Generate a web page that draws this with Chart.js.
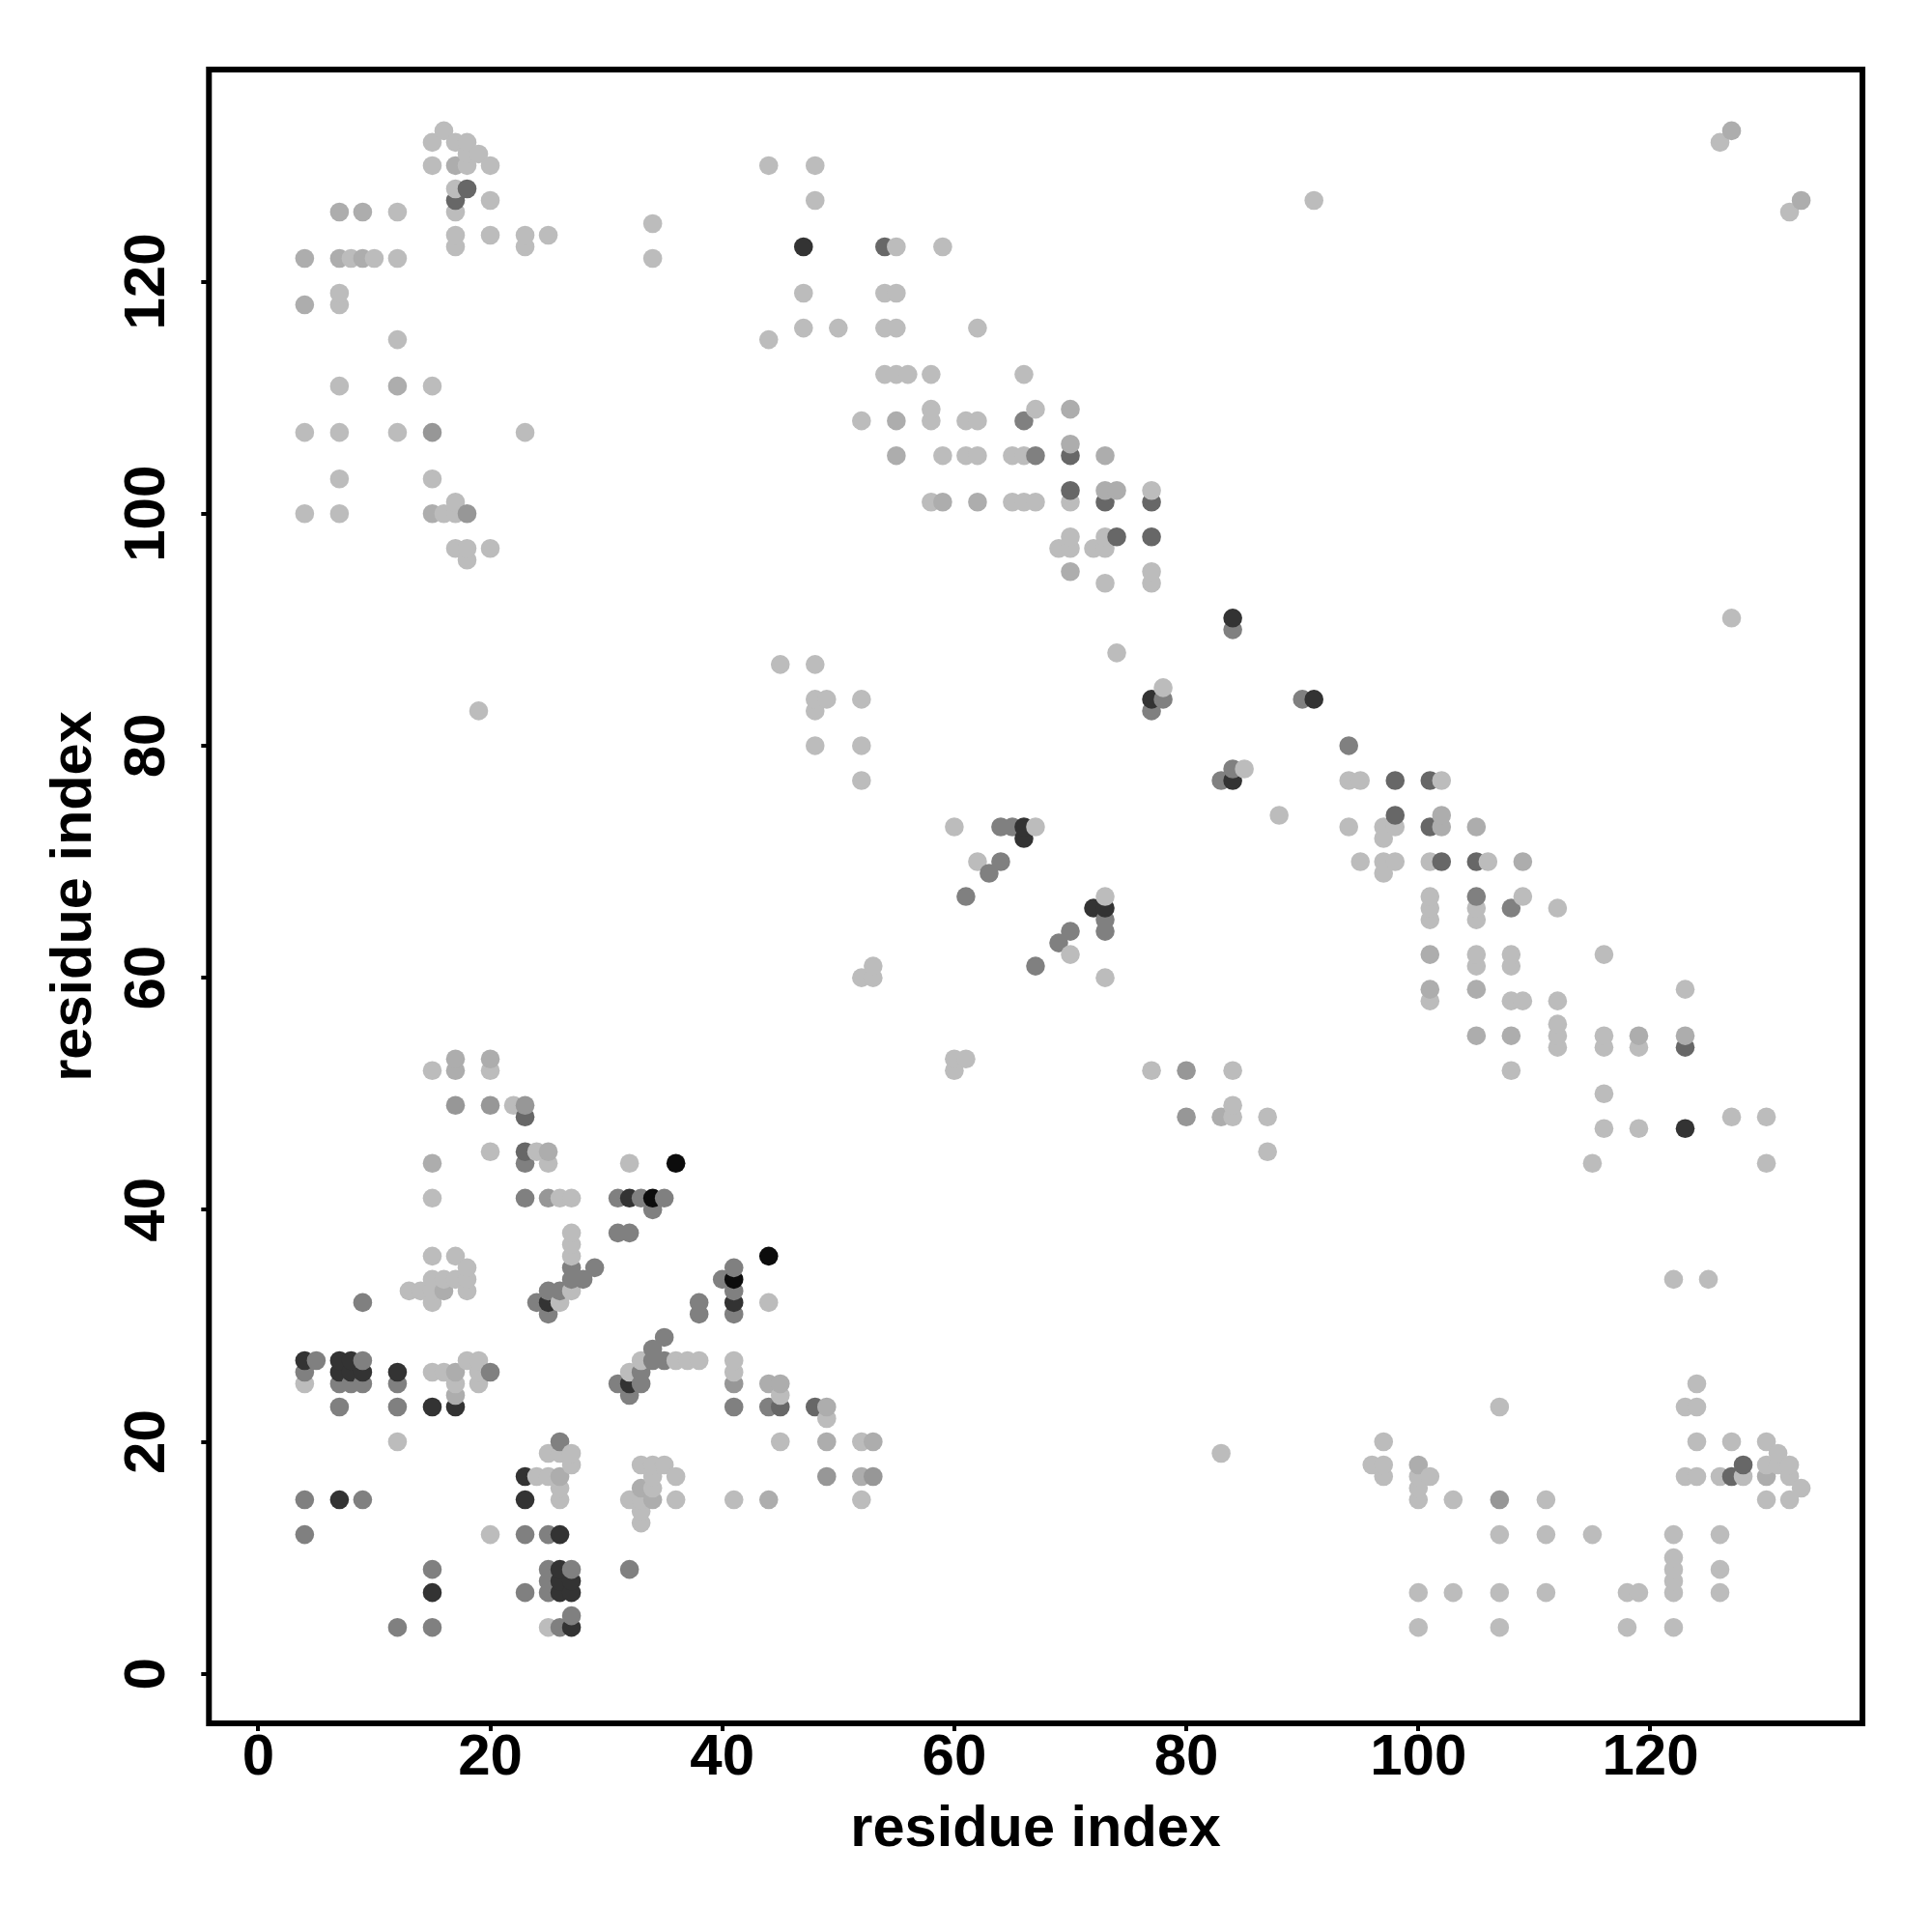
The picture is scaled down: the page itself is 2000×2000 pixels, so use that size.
<!DOCTYPE html>
<html>
<head>
<meta charset="utf-8">
<style>
    html, body { margin: 0; padding: 0; background: #fff; }
    canvas { display: block; }
</style>
<script src="https://cdn.jsdelivr.net/npm/chart.js@4/dist/chart.umd.min.js"></script>
</head>
<body>
<canvas id="contactMap" width="2000" height="2000"></canvas>
<script>
const tickValues = [0, 20, 40, 60, 80, 100, 120];
const axisTitle = 'residue index';

// contacts as [x, y], grouped by how dark they are in the picture
const faintContacts = [
    [16,133],[15,132],[17,132],[18,132],[18,131],[19,131],[15,130],[18,130],[20,130],[17,128],[20,127],
    [12,126],[17,126],[17,124],[20,124],[23,124],[25,124],[17,123],[23,123],[8,122],[10,122],[12,122],
    [7,119],[7,118],[12,115],[7,111],[15,111],[4,107],[7,107],[12,107],[23,107],[7,103],[15,103],
    [4,100],[7,100],[16,100],[17,101],[17,100],[17,97],[18,97],[20,97],[18,96],[19,83],
    [44,130],[48,130],[48,127],[91,127],[34,125],[34,122],[55,123],[59,123],[47,119],[54,119],[55,119],
    [47,116],[50,116],[54,116],[55,116],[62,116],[44,115],[54,112],[55,112],[56,112],[58,112],[66,112],
    [58,109],[67,109],[52,108],[58,108],[61,108],[62,108],[59,105],[61,105],[62,105],[65,105],[66,105],
    [58,101],[65,101],[66,101],[67,101],[70,101],[77,102],[70,98],[73,98],[69,97],[70,97],[72,97],[73,97],
    [77,95],[73,94],[77,94],[74,88],[45,87],[48,87],[78,85],[48,84],[49,84],[52,84],[48,83],[48,80],[52,80],
    [85,78],[52,77],[94,77],[95,77],[102,77],[88,74],[60,73],[67,73],[94,73],[97,73],[98,73],[97,72],
    [62,70],[95,70],[97,70],[98,70],[101,70],[106,70],[97,69],[73,67],[101,67],[109,67],[101,66],[105,66],
    [112,66],[101,65],[105,65],[70,62],[105,62],[108,62],[116,62],[53,61],[105,61],[108,61],[52,60],[53,60],
    [73,60],[123,59],[101,58],[108,58],[109,58],[112,58],[112,56],[112,55],[116,55],[112,54],[116,54],[119,54],
    [60,53],[61,53],[60,52],[77,52],[84,52],[108,52],[116,50],[84,49],[84,48],[87,48],[127,48],[130,48],
    [116,47],[119,47],[87,45],[115,44],[130,44],[127,91],[126,132],[132,126],
    [15,52],[20,52],[22,49],[20,45],[24,45],[25,44],[32,44],[15,41],[26,41],[27,41],[27,38],[27,37],
    [15,36],[17,36],[27,36],[18,35],[15,34],[16,34],[17,34],[18,34],[13,33],[14,33],[15,33],[18,33],[27,33],
    [15,32],[26,32],[18,27],[19,27],[4,25],[15,26],[16,26],[19,26],[17,25],[19,25],[12,20],[25,19],[26,19],
    [27,19],[27,18],[24,17],[25,17],[26,16],[26,15],[20,12],[25,4],[33,18],[34,18],[35,18],[34,17],[36,17],
    [34,16],[32,15],[33,15],[36,15],[33,14],[33,13],[41,15],[52,15],[33,27],[36,27],[37,27],[38,27],[32,26],
    [41,27],[41,26],[45,24],[44,32],[49,22],[45,20],[52,20],
    [83,19],[97,20],[96,18],[97,18],[97,17],[100,17],[101,17],[100,16],[100,15],[103,15],[111,15],[107,12],
    [111,12],[115,12],[100,7],[103,7],[107,7],[111,7],[100,4],[107,4],[118,4],[122,4],[118,7],[119,7],[122,7],
    [122,8],[122,9],[122,10],[122,12],[126,12],[126,9],[126,7],[107,23],[123,23],[124,23],[124,25],[124,20],
    [127,20],[130,20],[131,19],[130,18],[131,18],[132,18],[123,17],[124,17],[126,17],[128,17],[132,17],
    [133,16],[130,15],[132,15],[122,34],[125,34]
];
const paleContacts = [
    [17,130],[7,126],[9,126],[4,122],[7,122],[9,122],[4,118],[12,111],[15,100],[127,133],[133,127],
    [70,109],[55,108],[55,105],[73,105],[70,106],[59,101],[62,101],[73,102],[74,102],[70,95],
    [102,74],[102,73],[105,73],[109,70],[101,62],[101,59],[105,59],[105,55],[108,55],[119,55],[123,55],[83,48],
    [17,53],[20,53],[17,52],[25,45],[15,44],[16,33],[17,26],[17,24],[26,17],[33,16],[34,15],[44,15],
    [44,25],[45,25],[49,23],[49,20],[53,20],[52,17],[100,18],[130,17]
];
const greyContacts = [[15,107],[18,100],[17,49],[20,49],[23,49],[25,41],[80,52],[80,48],[41,25],[49,17],[53,17],[107,15]];
const midContacts = [
    [5,27],[9,27],[4,26],[7,25],[8,25],[9,25],[12,25],[7,23],[12,23],[20,26],[9,32],[4,15],[9,15],[4,12],
    [23,12],[25,12],[15,9],[25,9],[27,9],[32,9],[25,8],[23,7],[25,7],[27,5],[12,4],[15,4],[26,4],[26,20],
    [23,44],[23,41],[24,32],[25,33],[26,33],[25,31],[27,35],[27,34],[28,34],[29,35],[31,41],[33,41],[35,41],
    [34,40],[31,38],[32,38],[41,35],[40,34],[41,33],[38,32],[38,31],[41,31],[31,25],[33,25],[32,24],[33,26],
    [34,27],[35,27],[34,28],[35,29],[41,23],[44,23],[64,73],[65,73],[64,70],[63,69],[61,67],[70,64],[69,63],
    [67,61],[73,65],[73,64],[84,90],[78,84],[77,83],[90,84],[83,77],[84,78],[94,80],[66,108],[67,105],[105,67],[108,66]
];
const darkContacts = [
    [23,48],[23,45],[45,23],[48,23],[54,123],[18,128],[17,127],[70,105],[70,102],[73,101],[77,101],[74,98],
    [77,98],[98,77],[101,77],[98,74],[101,73],[102,70],[105,70],[123,54],[127,17],[128,18]
];
const heavyContacts = [
    [4,27],[7,27],[8,27],[7,26],[8,26],[9,26],[12,26],[15,23],[17,23],[23,17],[23,15],[15,7],[7,15],[26,12],
    [26,9],[26,8],[27,8],[26,7],[27,7],[27,4],[32,41],[25,32],[32,25],[41,32],[47,123],[77,84],[84,77],[84,91],
    [91,84],[66,72],[66,73],[72,66],[73,66],[123,47]
];
const blackContacts = [[36,44],[44,36],[34,41],[41,34]];

const contactGroups = [
    { points: faintContacts, color: '#bcbcbc' },
    { points: paleContacts, color: '#adadad' },
    { points: greyContacts, color: '#979797' },
    { points: midContacts, color: '#808080' },
    { points: darkContacts, color: '#676767' },
    { points: heavyContacts, color: '#333333' },
    { points: blackContacts, color: '#0c0c0c' }
];

// later columns paint over earlier ones in the original, so keep that order
const contacts = contactGroups
    .flatMap(group => group.points.map(([x, y]) => ({ x, y, color: group.color })))
    .sort((a, b) => a.x - b.x || a.y - b.y);

const fixedTicks = scale => {
    scale.ticks = tickValues.map(value => ({ value }));
};

const axisFont = { family: '"Liberation Sans", Arial, sans-serif', weight: 'bold', size: 60 };
const titleFont = { family: '"Liberation Sans", Arial, sans-serif', weight: 'bold', size: 59.5 };

const frame = {
    id: 'frame',
    afterDraw(chart) {
        const { ctx, chartArea } = chart;
        ctx.save();
        ctx.strokeStyle = '#000';
        ctx.lineWidth = 6;
        ctx.strokeRect(chartArea.left, chartArea.top, chartArea.right - chartArea.left, chartArea.bottom - chartArea.top);
        ctx.restore();
    }
};

new Chart(document.getElementById('contactMap').getContext('2d'), {
    type: 'scatter',
    data: {
        datasets: [{
            data: contacts,
            backgroundColor: contacts.map(c => c.color),
            borderWidth: 0,
            pointRadius: 9.8,
            pointHoverRadius: 9.8
        }]
    },
    options: {
        responsive: false,
        animation: false,
        layout: { padding: { top: 72, right: 72, left: 0, bottom: 0 } },
        plugins: { legend: { display: false }, tooltip: { enabled: false } },
        scales: {
            x: {
                type: 'linear',
                min: -4.25,
                max: 138.28,
                afterBuildTicks: fixedTicks,
                afterFit: scale => { scale.height = 216; },
                grid: { drawOnChartArea: false, color: '#000', lineWidth: 4, tickLength: 8 },
                border: { display: false },
                ticks: { color: '#000', font: axisFont, padding: -8, maxRotation: 0, autoSkip: false },
                title: { display: true, text: axisTitle, color: '#000', font: titleFont, padding: { top: 6, bottom: 70 } }
            },
            y: {
                type: 'linear',
                min: -4.27,
                max: 138.28,
                afterBuildTicks: fixedTicks,
                afterFit: scale => { scale.width = 216.3; },
                grid: { drawOnChartArea: false, color: '#000', lineWidth: 4, tickLength: 8 },
                border: { display: false },
                ticks: { color: '#000', font: axisFont, padding: 4.5, minRotation: 90, maxRotation: 90, autoSkip: false, crossAlign: 'center' },
                title: { display: true, text: axisTitle, color: '#000', font: titleFont, padding: { top: 42, bottom: 0 } }
            }
        }
    },
    plugins: [frame]
});
</script>
</body>
</html>
